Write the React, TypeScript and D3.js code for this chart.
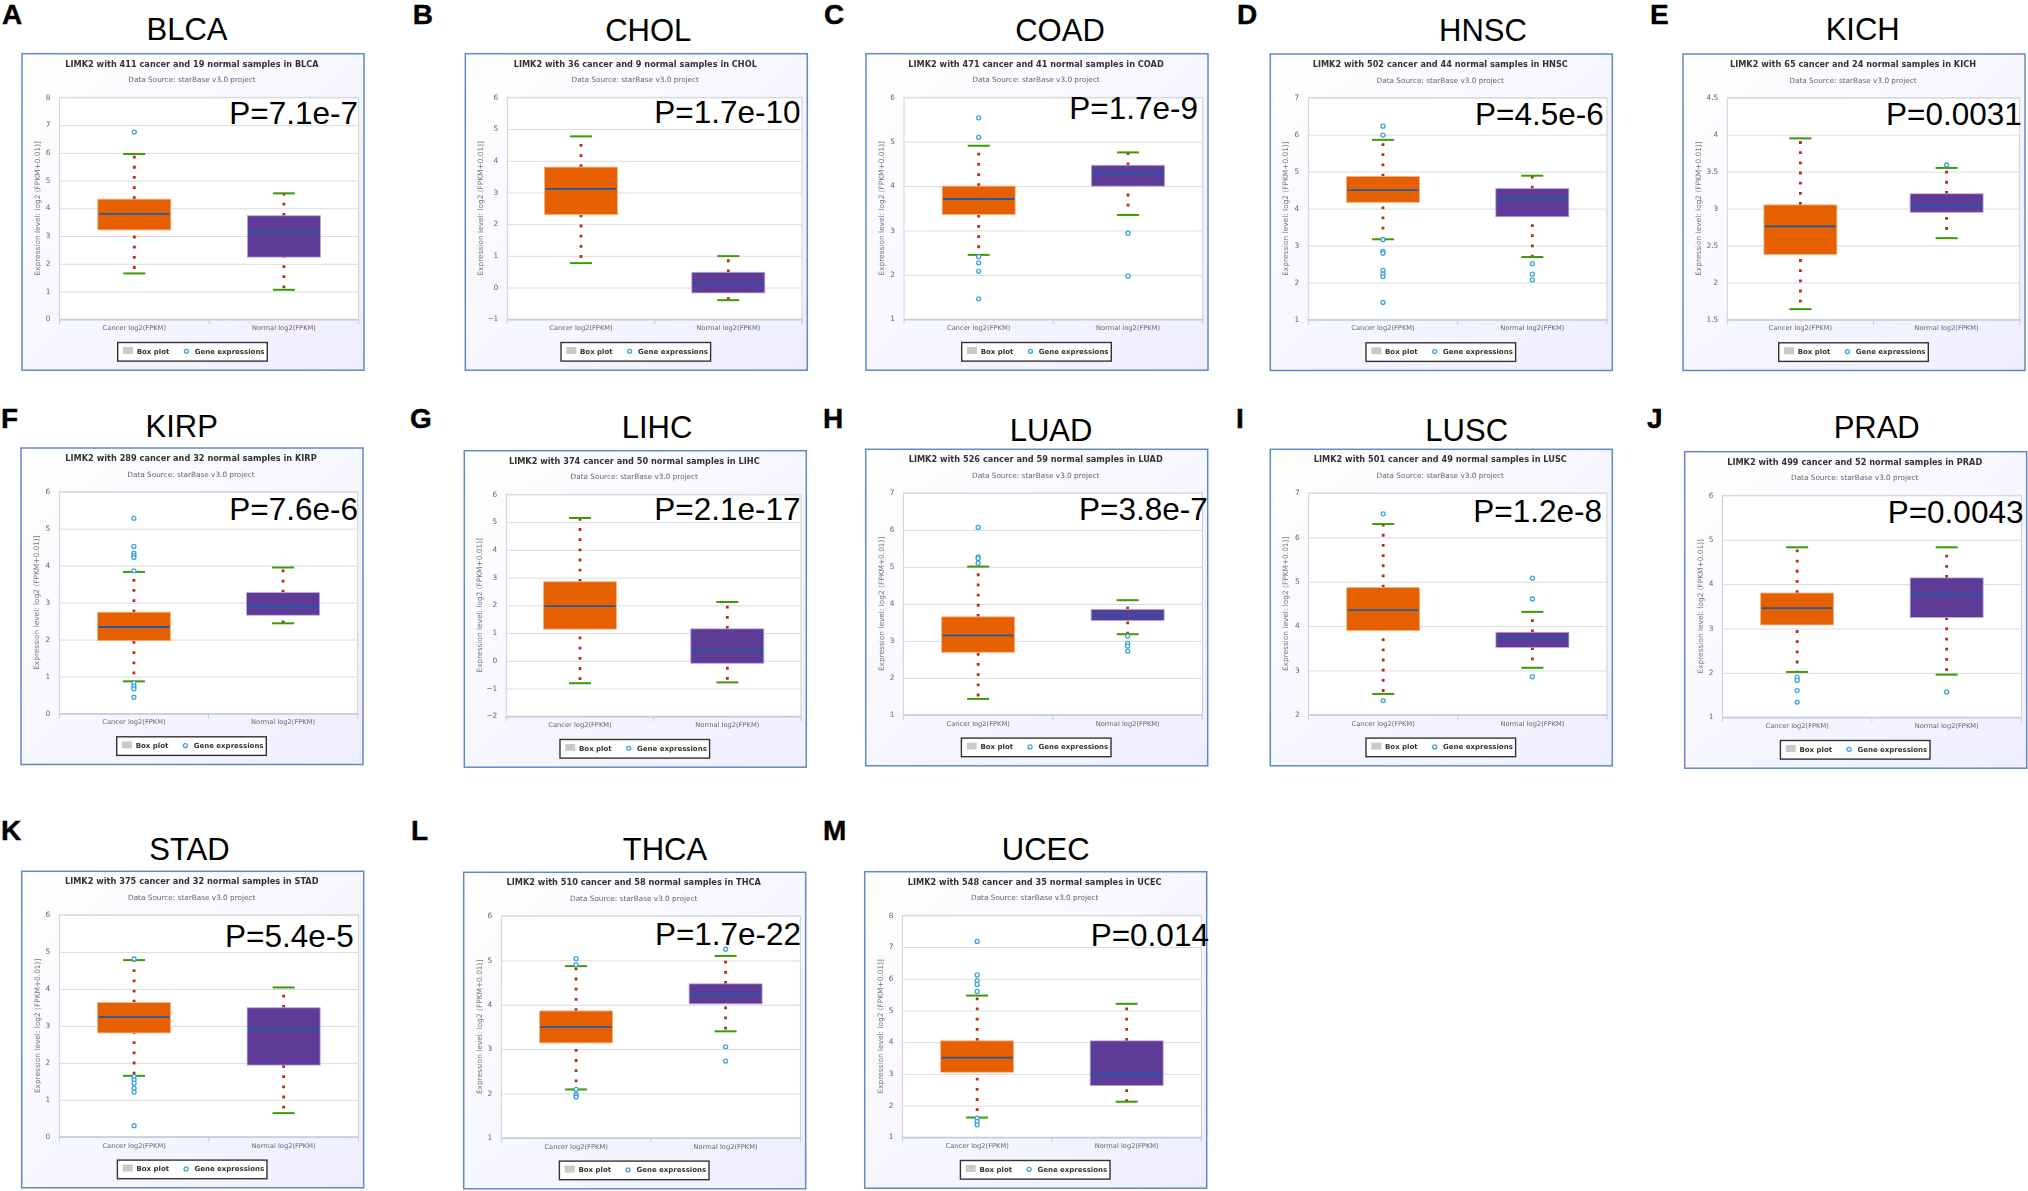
import React, { useRef, useEffect } from "react";
import * as d3 from "d3";

// values, panel order A..M
const letters = ["A", "B", "C", "D", "E", "F", "G", "H", "I", "J", "K", "L", "M"];
const cancers = ["BLCA", "CHOL", "COAD", "HNSC", "KICH", "KIRP", "LIHC", "LUAD", "LUSC", "PRAD", "STAD", "THCA", "UCEC"];
const cancerN = [411, 36, 471, 502, 65, 289, 374, 526, 501, 499, 375, 510, 548];
const normalN = [19, 9, 41, 44, 24, 32, 50, 59, 49, 52, 32, 58, 35];
const pLabels = ["P=7.1e-7", "P=1.7e-10", "P=1.7e-9", "P=4.5e-6", "P=0.0031", "P=7.6e-6", "P=2.1e-17", "P=3.8e-7", "P=1.2e-8", "P=0.0043", "P=5.4e-5", "P=1.7e-22", "P=0.014"];
const yDomains: [number, number][] = [[0, 8], [-1, 6], [1, 6], [1, 7], [1.5, 4.5], [0, 6], [-2, 6], [1, 7], [2, 7], [1, 6], [0, 6], [1, 6], [1, 8]];
const yTickSteps = [1, 1, 1, 1, 0.5, 1, 1, 1, 1, 1, 1, 1, 1];
const categories = ["Cancer log2(FPKM)", "Normal log2(FPKM)"];

// low, q1, median, q3, high
const cancerBoxes = [
  [1.65, 3.22, 3.8, 4.33, 5.96],
  [0.77, 2.3, 3.11, 3.8, 4.77],
  [2.45, 3.36, 3.71, 4.0, 4.91],
  [3.17, 4.17, 4.5, 4.87, 5.86],
  [1.64, 2.38, 2.76, 3.05, 3.95],
  [0.87, 1.97, 2.34, 2.74, 3.83],
  [-0.81, 1.14, 1.97, 2.85, 5.15],
  [1.43, 2.69, 3.15, 3.65, 5.01],
  [2.47, 3.9, 4.36, 4.87, 6.3],
  [2.02, 3.08, 3.46, 3.8, 4.83],
  [1.65, 2.81, 3.24, 3.63, 4.78],
  [2.09, 3.14, 3.5, 3.86, 4.87],
  [1.62, 3.05, 3.51, 4.04, 5.47],
];
const normalBoxes = [
  [1.06, 2.24, 3.12, 3.73, 4.54],
  [-0.4, -0.17, 0.13, 0.48, 0.99],
  [3.35, 4.0, 4.29, 4.47, 4.76],
  [2.69, 3.78, 4.27, 4.54, 4.89],
  [2.6, 2.95, 3.05, 3.2, 3.55],
  [2.44, 2.66, 2.88, 3.27, 3.95],
  [-0.78, -0.09, 0.38, 1.15, 2.12],
  [3.18, 3.55, 3.68, 3.85, 4.1],
  [3.06, 3.52, 3.73, 3.86, 4.32],
  [1.96, 3.25, 3.76, 4.14, 4.83],
  [0.64, 1.94, 2.91, 3.49, 4.04],
  [3.4, 4.02, 4.24, 4.47, 5.1],
  [2.12, 2.63, 2.98, 4.04, 5.21],
];
const cancerOutliers = [
  [6.75],
  [],
  [5.54, 5.1, 2.41, 2.27, 2.08, 1.46],
  [6.23, 5.99, 3.16, 2.84, 2.79, 2.33, 2.23, 2.16, 1.46],
  [],
  [5.28, 4.52, 4.34, 4.28, 4.22, 3.86, 0.83, 0.74, 0.67, 0.44],
  [],
  [6.07, 5.27, 5.23, 5.1],
  [6.53, 2.32],
  [1.9, 1.83, 1.6, 1.34],
  [4.81, 1.63, 1.54, 1.45, 1.31, 1.21, 0.3],
  [5.04, 4.9, 2.09, 1.97, 1.92],
  [7.18, 6.12, 5.94, 5.82, 5.6, 1.6, 1.49, 1.39],
];
const normalOutliers = [
  [],
  [],
  [2.94, 1.97],
  [2.51, 2.23, 2.07],
  [3.59],
  [],
  [],
  [3.13, 2.93, 2.86, 2.72],
  [5.08, 4.61, 2.86],
  [1.57],
  [],
  [5.25, 3.05, 2.73],
  [],
];

// layout, not data
const frameXY = [[22, 53.7], [465.3, 53.7], [866, 53.7], [1270.3, 54], [1683, 54], [21, 448], [464.3, 450.7], [865.7, 449.3], [1270.3, 449.3], [1684.7, 451.7], [21.7, 871.3], [463.7, 872.3], [864.7, 871.7]];
const plotLefts = [37.5, 42, 38, 38, 44.3, 38.3, 42, 37.7, 38.3, 37.7, 37.6, 37.6, 37.7];
const titleXY = [[187, 39.5], [648.3, 40.7], [1060, 41], [1483, 41], [1862.7, 40], [181.7, 437.3], [657, 438], [1051, 440.7], [1466.7, 440.7], [1876.7, 437.7], [189.5, 860], [665, 860], [1045.7, 860]];
const pXY = [[229.3, 124], [654.3, 123.3], [1069.3, 119.3], [1475, 124.7], [1886, 125], [229.3, 520], [654.3, 520], [1079, 520], [1473.3, 521.7], [1887.7, 522.7], [225, 947.3], [654.9, 945], [1090.7, 945.7]];
const letterXY = [[2, 24], [412.7, 24], [824, 24], [1237, 24], [1650, 24], [1, 428], [410, 428], [823, 428], [1236, 428], [1647, 428], [1, 840], [411, 840], [823, 840]];

const ARIAL = "'Liberation Sans', Arial, sans-serif";
const CHART_FONT = "'DejaVu Sans', Verdana, sans-serif";
const FRAME_W = 342;
const FRAME_H = 316.5;
const DOT = 2.8;
const GAP = 7.37;

export default function App() {
  const ref = useRef<SVGSVGElement>(null);

  useEffect(() => {
    if (!ref.current) return;
    const svg = d3.select(ref.current);
    svg.selectAll("*").remove();

    const defs = svg.append("defs");
    const grad = defs.append("linearGradient")
      .attr("id", "frameBg")
      .attr("x1", 0).attr("y1", 0).attr("x2", 1).attr("y2", 1);
    grad.append("stop").attr("offset", "0%").attr("stop-color", "#ffffff");
    grad.append("stop").attr("offset", "100%").attr("stop-color", "#eeeeff");
    // the panels are soft screenshots in the reference
    defs.append("filter")
      .attr("id", "soft")
      .attr("x", "-2%").attr("y", "-2%").attr("width", "104%").attr("height", "104%")
      .append("feGaussianBlur").attr("stdDeviation", 0.4);

    cancers.forEach((name, i) => {
      svg.append("text")
        .attr("x", letterXY[i][0]).attr("y", letterXY[i][1])
        .attr("font-family", ARIAL).attr("font-weight", "bold").attr("font-size", 28)
        .attr("stroke", "#000").attr("stroke-width", 0.4)
        .text(letters[i]);
      svg.append("text")
        .attr("x", titleXY[i][0]).attr("y", titleXY[i][1])
        .attr("text-anchor", "middle")
        .attr("font-family", ARIAL).attr("font-size", 31)
        .text(name);

      const g = svg.append("g")
        .attr("transform", `translate(${frameXY[i][0]},${frameXY[i][1]})`)
        .attr("font-family", CHART_FONT)
        .attr("filter", "url(#soft)");

      g.append("rect")
        .attr("width", FRAME_W).attr("height", FRAME_H)
        .attr("fill", "url(#frameBg)")
        .attr("stroke", "#5f8ac4").attr("stroke-width", 1.5);

      g.append("text")
        .attr("x", FRAME_W / 2 - 1).attr("y", 13)
        .attr("text-anchor", "middle")
        .attr("font-size", 8.2).attr("font-weight", "bold").attr("fill", "#333")
        .text(`LIMK2 with ${cancerN[i]} cancer and ${normalN[i]} normal samples in ${name}`);
      g.append("text")
        .attr("x", FRAME_W / 2 - 1).attr("y", 28.5)
        .attr("text-anchor", "middle")
        .attr("font-size", 7.3).attr("fill", "#666")
        .text("Data Source: starBase v3.0 project");

      const left = plotLefts[i];
      const right = 336.7;
      const top = 43.7;
      const bottom = 265.5;

      const x = d3.scaleBand<string>().domain(categories).range([left, right]);
      const y = d3.scaleLinear().domain(yDomains[i]).range([bottom, top]);
      const step = yTickSteps[i];
      const ticks = d3.range(yDomains[i][0], yDomains[i][1] + step / 2, step);

      g.append("rect")
        .attr("x", left).attr("y", top)
        .attr("width", right - left).attr("height", bottom - top)
        .attr("fill", "#fff")
        .attr("stroke", "#cfcfd6").attr("stroke-width", 1);

      const yAxis = d3.axisLeft(y)
        .tickValues(ticks)
        .tickSize(-(right - left))
        .tickPadding(9)
        .tickFormat(d => String(d).replace("-", "\u2212"));
      const yG = g.append("g").attr("transform", `translate(${left},0)`).call(yAxis);
      yG.select(".domain").remove();
      yG.selectAll(".tick line").attr("stroke", "#dcdce0").attr("stroke-width", 1);
      yG.selectAll(".tick text")
        .attr("font-family", CHART_FONT).attr("font-size", 7.4).attr("fill", "#666").attr("dy", "0.22em");

      g.append("text")
        .attr("transform", `translate(15.3,${(top + bottom) / 2}) rotate(-90)`)
        .attr("text-anchor", "middle").attr("dy", "0.35em")
        .attr("font-size", 7.4).attr("fill", "#777")
        .text("Expression level: log2 (FPKM+0.01)]");

      const xAxis = d3.axisBottom(x).tickSize(0).tickPadding(6);
      const xG = g.append("g").attr("transform", `translate(0,${bottom})`).call(xAxis);
      xG.select(".domain").attr("stroke", "#c0cfe0").attr("stroke-width", 1.5);
      xG.selectAll(".tick text")
        .attr("font-family", CHART_FONT).attr("font-size", 6.7).attr("fill", "#666");
      [left, (left + right) / 2, right].forEach(tx => {
        g.append("line")
          .attr("x1", tx).attr("x2", tx).attr("y1", bottom).attr("y2", bottom + 5)
          .attr("stroke", "#c0cfe0").attr("stroke-width", 1);
      });

      const boxes = [cancerBoxes[i], normalBoxes[i]];
      const outliers = [cancerOutliers[i], normalOutliers[i]];
      const fills = ["#e66100", "#5e3a98"];
      const edges = ["#f6b48a", "#b7a6dc"];
      const boxW = 73;

      boxes.forEach((b, k) => {
        const [low, q1, med, q3, high] = b;
        const cx = x(categories[k])! + x.bandwidth() / 2;
        const upperLen = y(q3) - y(high);

        // stem is one dashed path in the original, so the dash carries over to the lower part
        g.append("line")
          .attr("x1", cx).attr("x2", cx).attr("y1", y(q3)).attr("y2", y(high))
          .attr("stroke", "#b3300f").attr("stroke-width", 2.8)
          .attr("stroke-dasharray", `${DOT} ${GAP}`);
        g.append("line")
          .attr("x1", cx).attr("x2", cx).attr("y1", y(q1)).attr("y2", y(low))
          .attr("stroke", "#b3300f").attr("stroke-width", 2.8)
          .attr("stroke-dasharray", `${DOT} ${GAP}`)
          .attr("stroke-dashoffset", upperLen);

        g.append("rect")
          .attr("x", cx - boxW / 2).attr("y", y(q3))
          .attr("width", boxW).attr("height", y(q1) - y(q3))
          .attr("fill", fills[k])
          .attr("stroke", edges[k]).attr("stroke-width", 0.8);
        g.append("line")
          .attr("x1", cx - boxW / 2 + 1).attr("x2", cx + boxW / 2 - 1)
          .attr("y1", y(med)).attr("y2", y(med))
          .attr("stroke", "#1a5aa6").attr("stroke-width", 1.8);

        [low, high].forEach(v => {
          g.append("line")
            .attr("x1", cx - 11).attr("x2", cx + 11)
            .attr("y1", y(v)).attr("y2", y(v))
            .attr("stroke", "#3c9a06").attr("stroke-width", 2);
        });

        g.selectAll(null)
          .data(outliers[k])
          .enter()
          .append("circle")
          .attr("cx", cx)
          .attr("cy", d => y(d))
          .attr("r", 2)
          .attr("fill", "#fff")
          .attr("stroke", "#3aa3d9")
          .attr("stroke-width", 1.3);
      });

      // legend
      const legend = g.append("g").attr("transform", "translate(95.7,288.8)");
      legend.append("rect")
        .attr("width", 149.6).attr("height", 18.6)
        .attr("fill", "#fff").attr("stroke", "#333").attr("stroke-width", 1.4);
      legend.append("rect")
        .attr("x", 5.3).attr("y", 4.5).attr("width", 10).attr("height", 7)
        .attr("fill", "#c9c9c9");
      legend.append("text")
        .attr("x", 19).attr("y", 11.3)
        .attr("font-size", 7).attr("font-weight", "bold").attr("fill", "#333")
        .text("Box plot");
      legend.append("circle")
        .attr("cx", 68.7).attr("cy", 8.8).attr("r", 2)
        .attr("fill", "#fff").attr("stroke", "#3aa3d9").attr("stroke-width", 1.3);
      legend.append("text")
        .attr("x", 77).attr("y", 11.3)
        .attr("font-size", 7).attr("font-weight", "bold").attr("fill", "#333")
        .text("Gene expressions");

      svg.append("text")
        .attr("x", pXY[i][0]).attr("y", pXY[i][1])
        .attr("font-family", ARIAL).attr("font-size", 31.5)
        .text(pLabels[i]);
    });
  }, []);

  return (
    <svg
      ref={ref}
      width={2028}
      height={1191}
      style={{ position: "absolute", left: 0, top: 0, background: "#fff" }}
    />
  );
}
